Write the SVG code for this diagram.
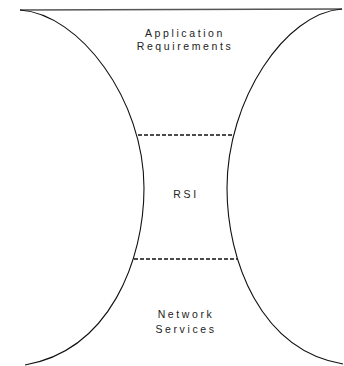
<svg xmlns="http://www.w3.org/2000/svg" width="344" height="366" viewBox="0 0 344 366">
  <style>
    .edge { fill: none; stroke: #111; stroke-width: 1.1; }
    .rim { fill: none; stroke: #555; stroke-width: 1.4; }
    .cut { fill: none; stroke: #111; stroke-width: 1.3; stroke-dasharray: 4 2; }
    .label { font-family: "Liberation Sans", Arial, sans-serif; font-size: 10.5px; fill: #222; letter-spacing: 2.6px; text-anchor: middle; }
  </style>
  <rect width="344" height="366" fill="#fff"/>

  <!-- funnel outline: top rim plus two pinched side walls -->
  <g id="outline">
    <line class="rim" x1="20" y1="10" x2="342" y2="9"/>
    <path class="edge" d="M20,10 C80,14 144,100 144,188"/>
    <path class="edge" d="M144,188 C144,260 110,350 25,365"/>
    <path class="edge" d="M342,9 C285,13 227,100 227,188"/>
    <path class="edge" d="M227,188 C227,260 260,350 343,364"/>
  </g>

  <!-- layer boundaries -->
  <g id="connectors">
    <line class="cut" x1="138" y1="135" x2="233" y2="135"/>
    <line class="cut" x1="134" y1="259" x2="237" y2="259"/>
  </g>

  <g id="application-requirements">
    <text class="label" x="185" y="37">Application</text>
    <text class="label" x="185" y="50">Requirements</text>
  </g>

  <g id="rsi">
    <text class="label" x="186" y="198">RSI</text>
  </g>

  <g id="network-services">
    <text class="label" x="186" y="318">Network</text>
    <text class="label" x="186" y="333">Services</text>
  </g>
</svg>
